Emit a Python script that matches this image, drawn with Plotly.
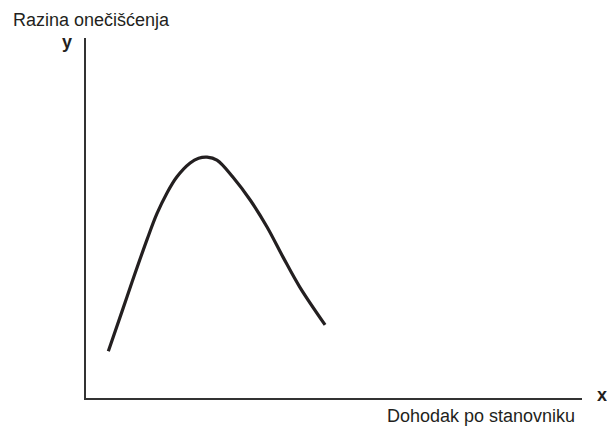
import plotly.graph_objects as go

# Curve values (arbitrary units)
income = [4.5, 7.3, 9.3, 12.3, 14.3, 16.3, 18.3, 21.0, 22.7, 24.4, 26.4, 29.6, 33.1, 36.5, 39.7, 43.1, 48.2]
pollution = [13.0, 24.2, 32.3, 44.0, 51.2, 56.9, 61.4, 65.3, 66.6, 66.9, 66.1, 61.4, 55.0, 47.5, 39.2, 30.8, 20.3]

ink = "#231f20"
font = "Liberation Sans, Arial, sans-serif"

fig = go.Figure()
fig.add_trace(go.Scatter(x=income, y=pollution, mode="lines",
                         line=dict(color=ink, width=3.2, shape="spline", smoothing=1.0),
                         hoverinfo="skip", showlegend=False))

fig.update_layout(
    width=607, height=428,
    margin=dict(l=86, r=25, t=38, b=30),
    paper_bgcolor="white", plot_bgcolor="white",
    xaxis=dict(range=[0, 100], showgrid=False, zeroline=False, showticklabels=False,
               ticks="", showline=True, linecolor="#333333", linewidth=2, fixedrange=True),
    yaxis=dict(range=[0, 100], showgrid=False, zeroline=False, showticklabels=False,
               ticks="", showline=True, linecolor="#333333", linewidth=2, fixedrange=True),
    annotations=[
        dict(text="Razina onečišćenja", xref="paper", yref="paper", x=-0.152, y=1.051,
             xanchor="left", yanchor="middle", showarrow=False,
             font=dict(family=font, size=18, color=ink)),
        dict(text="<b>y</b>", xref="paper", yref="paper", x=-0.039, y=0.990,
             xanchor="center", yanchor="middle", showarrow=False,
             font=dict(family=font, size=18, color=ink)),
        dict(text="<b>x</b>", xref="paper", yref="paper", x=1.040, y=0.007,
             xanchor="center", yanchor="middle", showarrow=False,
             font=dict(family=font, size=18, color=ink)),
        dict(text="Dohodak po stanovniku", xref="paper", yref="paper", x=0.990, y=-0.050,
             xanchor="right", yanchor="middle", showarrow=False,
             font=dict(family=font, size=18, color=ink)),
    ],
)

fig.write_html(
    "out.html",
    config={"displayModeBar": False},
    post_script="document.body.style.margin='0';document.body.style.overflow='hidden';",
)
